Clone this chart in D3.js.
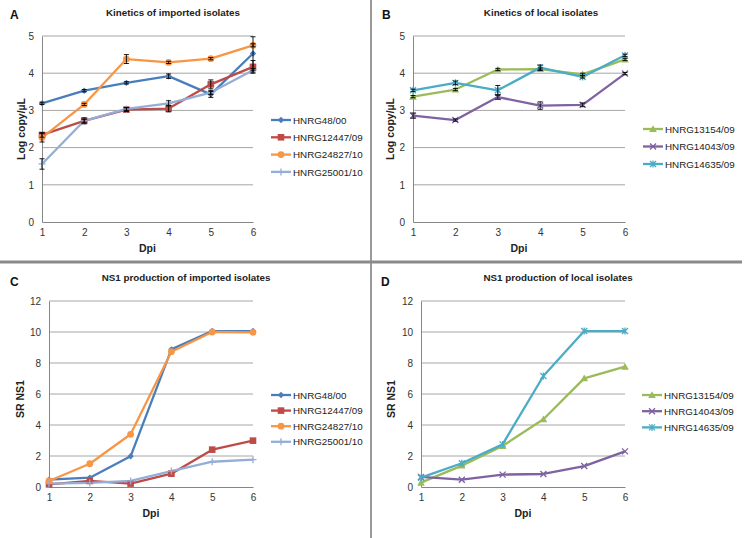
<!DOCTYPE html>
<html><head><meta charset="utf-8">
<script src="https://cdn.jsdelivr.net/npm/d3@7"></script>
<style>
body{margin:0;background:#fff;}
svg{display:block;font-family:"Liberation Sans",Arial,sans-serif;}
</style></head>
<body><svg id="c" width="744" height="538"></svg>
<script>
// ---------- data ----------
const days = [1, 2, 3, 4, 5, 6];
const importedNames = ["HNRG48/00", "HNRG12447/09", "HNRG24827/10", "HNRG25001/10"];
const localNames = ["HNRG13154/09", "HNRG14043/09", "HNRG14635/09"];
const kineticTicks = [0, 1, 2, 3, 4, 5];
const ns1Ticks = [0, 2, 4, 6, 8, 10, 12];

// A: kinetics imported (log copy/µL)
const kinA_48 = [3.19, 3.53, 3.74, 3.92, 3.43, 4.53];
const kinA_12447 = [2.34, 2.72, 3.02, 3.05, 3.70, 4.17];
const kinA_24827 = [2.27, 3.16, 4.38, 4.29, 4.39, 4.75];
const kinA_25001 = [1.56, 2.72, 3.04, 3.19, 3.48, 4.08];
const errA_48 = [0.03, 0.03, 0.03, 0.06, 0.08, 0.45];
const errA_12447 = [0.06, 0.08, 0.05, 0.09, 0.12, 0.17];
const errA_24827 = [0.12, 0.03, 0.12, 0.03, 0.03, 0.04];
const errA_25001 = [0.14, 0.04, 0.04, 0.07, 0.05, 0.05];

// B: kinetics local
const kinB_13154 = [3.37, 3.56, 4.10, 4.11, 3.97, 4.37];
const kinB_14043 = [2.86, 2.74, 3.36, 3.13, 3.15, 3.99];
const kinB_14635 = [3.54, 3.74, 3.54, 4.15, 3.90, 4.48];
const errB_13154 = [0.03, 0.03, 0.03, 0.03, 0.03, 0.03];
const errB_14043 = [0.07, 0.03, 0.06, 0.10, 0.05, 0.03];
const errB_14635 = [0.03, 0.05, 0.13, 0.07, 0.03, 0.03];

// C: NS1 imported (SR NS1)
const ns1C_48 = [0.47, 0.60, 1.98, 8.88, 10.06, 10.06];
const ns1C_12447 = [0.17, 0.39, 0.22, 0.86, 2.41, 2.99];
const ns1C_24827 = [0.39, 1.50, 3.40, 8.73, 10.00, 9.98];
const ns1C_25001 = [0.22, 0.26, 0.39, 1.03, 1.63, 1.76];

// D: NS1 local
const ns1D_13154 = [0.28, 1.38, 2.65, 4.37, 7.01, 7.76];
const ns1D_14043 = [0.65, 0.47, 0.80, 0.84, 1.35, 2.30];
const ns1D_14635 = [0.60, 1.53, 2.75, 7.16, 10.06, 10.06];

// ---------- styles ----------
const importedColors = ["#4A7EBB", "#BE4B48", "#F79646", "#94AED6"];
const importedMarkers = ["diamond", "square", "circle", "plus"];
const localColors = ["#9BBB59", "#7E62A1", "#4BACC6"];
const localMarkers = ["triangle", "cross", "star"];

const svg = d3.select("#c");

// separators
svg.append("line").attr("x1", 371).attr("x2", 371).attr("y1", 0).attr("y2", 538)
  .attr("stroke", "#9a9a9a").attr("stroke-width", 2);
svg.append("line").attr("x1", 0).attr("x2", 742).attr("y1", 262).attr("y2", 262)
  .attr("stroke", "#8a8a8a").attr("stroke-width", 3);

function marker(g, type, x, y, color) {
  const s = 3.2;
  if (type === "diamond") {
    g.append("path").attr("d", `M${x},${y-s}L${x+s},${y}L${x},${y+s}L${x-s},${y}Z`).attr("fill", color);
  } else if (type === "square") {
    g.append("rect").attr("x", x-3.3).attr("y", y-3.3).attr("width", 6.6).attr("height", 6.6).attr("fill", color);
  } else if (type === "circle") {
    g.append("circle").attr("cx", x).attr("cy", y).attr("r", 3.4).attr("fill", color);
  } else if (type === "triangle") {
    g.append("path").attr("d", `M${x},${y-3.8}L${x+3.8},${y+3}L${x-3.8},${y+3}Z`).attr("fill", color);
  } else if (type === "plus") {
    g.append("path").attr("d", `M${x-3.5},${y}H${x+3.5}M${x},${y-3.5}V${y+3.5}`).attr("stroke", color).attr("stroke-width", 1.3);
  } else if (type === "cross") {
    g.append("path").attr("d", `M${x-3},${y-3}L${x+3},${y+3}M${x-3},${y+3}L${x+3},${y-3}`).attr("stroke", color).attr("stroke-width", 1.3);
  } else if (type === "star") {
    g.append("path").attr("d", `M${x-3},${y-3}L${x+3},${y+3}M${x-3},${y+3}L${x+3},${y-3}M${x},${y-3.5}V${y+3.5}`).attr("stroke", color).attr("stroke-width", 1.3);
  }
}

function panel(cfg) {
  const g = svg.append("g");
  const x = d3.scalePoint().domain(days).range([cfg.x0, cfg.x1]);
  const y = d3.scaleLinear().domain([0, cfg.ticks[cfg.ticks.length - 1]]).range([cfg.yB, cfg.yT]);

  // gridlines
  g.append("g").selectAll("line").data(cfg.ticks.filter(t => t > 0)).join("line")
    .attr("x1", cfg.x0).attr("x2", cfg.x1).attr("y1", d => y(d)).attr("y2", d => y(d))
    .attr("stroke", "#a6a6a6").attr("stroke-width", 1);

  // axes
  const ya = g.append("g").attr("transform", `translate(${cfg.x0},0)`)
    .call(d3.axisLeft(y).tickValues(cfg.ticks).tickFormat(d3.format("d")).tickSize(0).tickPadding(8));
  ya.select(".domain").attr("stroke", "#868686");
  ya.selectAll("text").attr("font-size", 10).attr("fill", "#333").attr("font-family", "Liberation Sans, Arial, sans-serif");
  const xa = g.append("g").attr("transform", `translate(0,${cfg.yB})`)
    .call(d3.axisBottom(x).tickSize(0).tickPadding(7));
  xa.select(".domain").attr("stroke", "#868686");
  xa.selectAll("text").attr("font-size", 10).attr("fill", "#333").attr("font-family", "Liberation Sans, Arial, sans-serif");

  // lines
  cfg.series.forEach((vals, i) => {
    const line = d3.line().x((d, j) => x(days[j])).y(d => y(d));
    g.append("path").datum(vals).attr("d", line).attr("fill", "none")
      .attr("stroke", cfg.colors[i]).attr("stroke-width", 2.3).attr("stroke-linejoin", "round");
  });
  // markers
  cfg.series.forEach((vals, i) => {
    vals.forEach((v, j) => marker(g, cfg.markers[i], x(days[j]), y(v), cfg.colors[i]));
  });
  // error bars
  if (cfg.errs) {
    cfg.errs.forEach((errs, i) => {
      errs.forEach((e, j) => {
        const cx = x(days[j]), v = cfg.series[i][j];
        const t = y(v + e), b = y(v - e);
        const p = `M${cx},${t}V${b}M${cx-2.5},${t}H${cx+2.5}M${cx-2.5},${b}H${cx+2.5}`;
        g.append("path").attr("d", p).attr("stroke", "#000").attr("stroke-width", 0.9).attr("fill", "none");
      });
    });
  }

  // titles
  g.append("text").attr("x", cfg.titleX).attr("y", cfg.titleY).attr("text-anchor", "middle")
    .attr("font-size", 9.8).attr("font-weight", "bold").attr("fill", "#222").text(cfg.title);
  g.append("text").attr("x", cfg.letterX).attr("y", cfg.letterY)
    .attr("font-size", 12).attr("font-weight", "bold").attr("fill", "#111").text(cfg.letter);
  g.append("text").attr("x", (cfg.x0 + cfg.x1) / 2).attr("y", cfg.yB + 30).attr("text-anchor", "middle")
    .attr("font-size", 10.5).attr("font-weight", "bold").attr("fill", "#222").text("Dpi");
  g.append("text").attr("transform", `translate(${cfg.ylabX},${cfg.ylabY}) rotate(-90)`).attr("text-anchor", "middle")
    .attr("font-size", 10.5).attr("font-weight", "bold").attr("fill", "#222").text(cfg.ylab);

  // legend
  cfg.names.forEach((n, i) => {
    const ly = cfg.legY + i * cfg.legStep;
    g.append("line").attr("x1", cfg.legX).attr("x2", cfg.legX + 20).attr("y1", ly).attr("y2", ly)
      .attr("stroke", cfg.colors[i]).attr("stroke-width", 2.3);
    marker(g, cfg.markers[i], cfg.legX + 10, ly, cfg.colors[i]);
    g.append("text").attr("x", cfg.legX + 22).attr("y", ly + 3.6).attr("font-size", 9.8)
      .attr("fill", "#222").text(n);
  });
}

panel({letter: "A", letterX: 10, letterY: 19, title: "Kinetics of imported isolates", titleX: 173, titleY: 16,
  x0: 42, x1: 253, yT: 36, yB: 222, ticks: kineticTicks, ylab: "Log copy/µL", ylabX: 25, ylabY: 129,
  series: [kinA_48, kinA_12447, kinA_24827, kinA_25001], errs: [errA_48, errA_12447, errA_24827, errA_25001],
  colors: importedColors, markers: importedMarkers, names: importedNames, legX: 271, legY: 120, legStep: 17.3});

panel({letter: "B", letterX: 382, letterY: 19, title: "Kinetics of local isolates", titleX: 541, titleY: 16,
  x0: 413, x1: 625, yT: 36, yB: 222, ticks: kineticTicks, ylab: "Log copy/µL", ylabX: 394, ylabY: 129,
  series: [kinB_13154, kinB_14043, kinB_14635], errs: [errB_13154, errB_14043, errB_14635],
  colors: localColors, markers: localMarkers, names: localNames, legX: 643, legY: 129, legStep: 17.5});

panel({letter: "C", letterX: 10, letterY: 286, title: "NS1 production of imported isolates", titleX: 186, titleY: 281,
  x0: 49, x1: 253, yT: 301, yB: 487, ticks: ns1Ticks, ylab: "SR NS1", ylabX: 24, ylabY: 399,
  series: [ns1C_48, ns1C_12447, ns1C_24827, ns1C_25001], errs: null,
  colors: importedColors, markers: importedMarkers, names: importedNames, legX: 271, legY: 395, legStep: 15.6});

panel({letter: "D", letterX: 381, letterY: 286, title: "NS1 production of local isolates", titleX: 558, titleY: 281,
  x0: 421, x1: 625, yT: 301, yB: 487, ticks: ns1Ticks, ylab: "SR NS1", ylabX: 395, ylabY: 399,
  series: [ns1D_13154, ns1D_14043, ns1D_14635], errs: null,
  colors: localColors, markers: localMarkers, names: localNames, legX: 642, legY: 395, legStep: 16.2});
</script></body></html>
